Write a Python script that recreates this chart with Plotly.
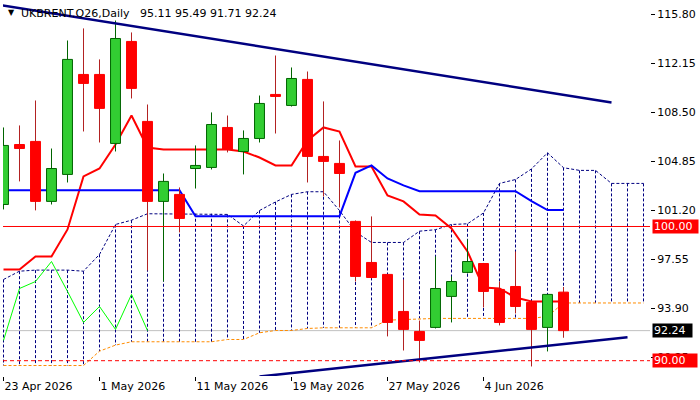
import datetime as dt
import plotly.graph_objects as go

# ---------------- data ----------------
dates = ["2026-04-23", "2026-04-24", "2026-04-27", "2026-04-28", "2026-04-29", "2026-04-30",
         "2026-05-01", "2026-05-04", "2026-05-05", "2026-05-06", "2026-05-07", "2026-05-08",
         "2026-05-11", "2026-05-12", "2026-05-13", "2026-05-14", "2026-05-15", "2026-05-18",
         "2026-05-19", "2026-05-20", "2026-05-21", "2026-05-22", "2026-05-25", "2026-05-26",
         "2026-05-27", "2026-05-28", "2026-05-29", "2026-06-01", "2026-06-02", "2026-06-03",
         "2026-06-04", "2026-06-05", "2026-06-08", "2026-06-09", "2026-06-10", "2026-06-11"]

opens = [101.64, 106.11, 106.34, 101.87, 103.88, 111.33, 111.33, 106.19, 113.79, 107.83, 101.87, 102.39,
         104.32, 104.40, 107.38, 105.59, 106.56, 109.84, 109.02, 110.96, 105.22, 104.70, 100.38, 97.32,
         96.43, 93.67, 92.18, 92.48, 94.79, 96.58, 97.24, 95.31, 95.53, 94.34, 92.48, 95.11]
highs = [107.38, 107.53, 109.39, 105.81, 113.86, 114.76, 112.45, 115.35, 114.46, 109.09, 103.95, 102.91,
         106.04, 108.50, 108.27, 107.16, 109.76, 112.74, 111.85, 111.55, 109.32, 106.41, 100.45, 100.75,
         96.43, 96.05, 92.99, 97.77, 96.28, 99.03, 97.24, 95.90, 98.14, 94.34, 94.94, 95.49]
lows = [101.27, 103.36, 101.20, 101.64, 103.28, 107.08, 106.26, 105.59, 109.54, 96.72, 95.90, 99.56,
        102.83, 104.25, 105.52, 103.88, 106.26, 106.93, 108.94, 103.28, 102.24, 101.42, 95.90, 96.13,
        91.81, 90.76, 89.87, 92.40, 92.85, 96.50, 93.97, 92.63, 93.52, 89.57, 90.69, 91.71]
closes = [106.04, 105.81, 101.87, 104.32, 112.45, 110.66, 108.80, 114.01, 110.29, 101.87, 103.36, 100.60,
          104.55, 107.60, 105.74, 106.56, 109.17, 109.69, 111.03, 105.22, 104.85, 103.95, 96.28, 96.20,
          92.85, 92.33, 91.51, 95.38, 95.90, 97.39, 95.16, 92.85, 94.04, 92.33, 94.94, 92.24]

tenkan = [96.80, 96.80, 97.77, 97.77, 99.78, 103.73, 104.32, 106.11, 108.27, 105.89, 105.74, 105.74,
          105.74, 105.74, 105.74, 105.59, 105.14, 104.55, 104.55, 106.41, 107.38, 107.08, 104.47, 104.47,
          102.31, 101.87, 100.90, 100.82, 99.85, 98.14, 95.46, 95.38, 94.71, 94.41, 94.41, 94.41]
kijun = [102.71, 102.71, 102.71, 102.71, 102.71, 102.71, 102.71, 102.71, 102.71, 102.71, 102.71, 102.71,
         100.77, 100.77, 100.77, 100.77, 100.77, 100.77, 100.77, 100.77, 100.77, 100.77, 104.00, 104.55,
         103.58, 103.06, 102.63, 102.63, 102.63, 102.63, 102.63, 102.63, 102.63, 101.89, 101.22, 101.22]
# Senkou spans (shifted forward, so they run 5 bars past the last candle)
cloud_upper = [96.05, 96.67, 96.75, 96.75, 96.75, 96.67, 97.92, 100.15, 100.47, 100.95, 100.95, 100.95,
               100.95, 100.95, 100.90, 100.04, 101.19, 101.83, 102.39, 102.59, 102.59, 101.19, 99.59, 98.81,
               98.81, 98.81, 99.65, 99.76, 100.15, 100.20, 101.01, 103.21, 103.50, 104.29, 105.49, 104.38,
               104.18, 104.18, 103.21, 103.21, 103.21]
cloud_lower = [89.64, 89.64, 89.64, 89.64, 89.64, 89.64, 90.71, 91.16, 91.41, 91.41, 91.41, 91.41,
               91.41, 91.41, 91.58, 91.58, 92.08, 92.25, 92.25, 92.40, 92.45, 92.45, 92.45, 92.45,
               93.02, 93.07, 93.15, 93.15, 93.15, 93.15, 93.15, 93.15, 93.15, 93.15, 93.30, 94.30,
               94.30, 94.30, 94.30, 94.30, 94.30]
chikou_shift = 26

# trendlines (bar index, price)
trend_down_x = [-1, 38]
trend_down_y = [116.66, 109.24]
trend_up_x = [16, 39]
trend_up_y = [88.82, 91.75]

level_solid = 100.00
level_dashed = 90.00

tick_dates = ["2026-04-23", "2026-05-01", "2026-05-11", "2026-05-19", "2026-05-27", "2026-06-04"]
price_ticks = [115.80, 112.15, 108.50, 104.85, 101.20, 97.55, 93.90, 90.25]
symbol = "UKBRENT.Q26,Daily"

# ---------------- figure ----------------
n = len(dates)
idx = list(range(n))
cidx = list(range(len(cloud_upper)))

NAVY = "#000080"
fig = go.Figure()

# cloud hatching
hx, hy = [], []
for i, (u, l) in enumerate(zip(cloud_upper, cloud_lower)):
    hx += [i, i, None]
    hy += [u, l, None]
fig.add_trace(go.Scatter(x=hx, y=hy, mode="lines", line=dict(color=NAVY, width=1, dash="3px,2px"),
                         hoverinfo="skip", zorder=0))
fig.add_trace(go.Scatter(x=cidx, y=cloud_upper, mode="lines", line=dict(color=NAVY, width=1, dash="3px,2px"),
                         hoverinfo="skip", zorder=0))
fig.add_trace(go.Scatter(x=cidx, y=cloud_lower, mode="lines", line=dict(color="#FF8C00", width=1, dash="3px,2px"),
                         hoverinfo="skip", zorder=0))

# chikou, tenkan, kijun
fig.add_trace(go.Scatter(x=[i - chikou_shift for i in idx[chikou_shift:]], y=closes[chikou_shift:],
                         mode="lines", line=dict(color="#00FF00", width=1), zorder=1))
fig.add_trace(go.Scatter(x=idx, y=tenkan, mode="lines", line=dict(color="#FF0000", width=2), zorder=1))
fig.add_trace(go.Scatter(x=idx, y=kijun, mode="lines", line=dict(color="#0000FF", width=2), zorder=1))

# candles: wicks
for up, col in ((True, "#006400"), (False, "#B22222")):
    wx, wy = [], []
    for i in idx:
        if (closes[i] >= opens[i]) == up:
            wx += [i, i, None]
            wy += [lows[i], highs[i], None]
    fig.add_trace(go.Scatter(x=wx, y=wy, mode="lines", line=dict(color=col, width=1), zorder=2))

# candles: bodies
bases = [min(o, c) for o, c in zip(opens, closes)]
heights = [abs(c - o) for o, c in zip(opens, closes)]
fills = ["#32CD32" if c >= o else "#FF0000" for o, c in zip(opens, closes)]
borders = ["#006400" if c >= o else "#FF0000" for o, c in zip(opens, closes)]
fig.add_trace(go.Bar(x=idx, y=heights, base=bases, width=0.62,
                     marker=dict(color=fills, line=dict(color=borders, width=1)), zorder=3))

# trendlines
fig.add_trace(go.Scatter(x=trend_down_x, y=trend_down_y, mode="lines", line=dict(color=NAVY, width=2.5), zorder=4))
fig.add_trace(go.Scatter(x=trend_up_x, y=trend_up_y, mode="lines", line=dict(color=NAVY, width=2.5), zorder=4))

# horizontal levels
bid = closes[-1]
fig.add_shape(type="line", xref="paper", x0=0, x1=1, yref="y", y0=bid, y1=bid,
              line=dict(color="#C0C0C0", width=1), layer="below")
fig.add_shape(type="line", xref="paper", x0=0, x1=1, yref="y", y0=level_solid, y1=level_solid,
              line=dict(color="#FF0000", width=1), layer="above")
fig.add_shape(type="line", xref="paper", x0=0, x1=1, yref="y", y0=level_dashed, y1=level_dashed,
              line=dict(color="#FF0000", width=1, dash="4px,3px"), layer="above")

# right-side price boxes
for val, bg, w in ((level_solid, "#FF0000", 43), (bid, "#000000", 37), (level_dashed, "#FF0000", 42)):
    fig.add_annotation(xref="paper", x=1, xanchor="left", xshift=2, yref="y", y=val, yanchor="middle",
                       text=f"{val:.2f}", showarrow=False, bgcolor=bg, align="left",
                       width=w, height=11, borderpad=1,
                       font=dict(family="DejaVu Sans", size=11, color="white"))

# header
fig.add_annotation(xref="paper", yref="paper", x=0, y=1, xanchor="left", yanchor="middle",
                   xshift=3, yshift=-10, text="▼", showarrow=False,
                   font=dict(family="DejaVu Sans", size=8, color="black"))
header = f"{symbol}\u00a0\u00a0 {opens[-1]:.2f} {highs[-1]:.2f} {lows[-1]:.2f} {closes[-1]:.2f}"
fig.add_annotation(xref="paper", yref="paper", x=0, y=1, xanchor="left", yanchor="middle",
                   xshift=16, yshift=-11, text=header, showarrow=False,
                   font=dict(family="DejaVu Sans", size=11, color="black"))

tickvals = [dates.index(d) for d in tick_dates]
ticktext = []
for d in tick_dates:
    t = dt.date.fromisoformat(d)
    ticktext.append(f"{t.day} {t.strftime('%b %Y')}")

fig.update_layout(width=700, height=400, margin=dict(l=3, r=50, t=2, b=24),
                  paper_bgcolor="white", plot_bgcolor="white", showlegend=False,
                  barmode="overlay", hovermode=False,
                  font=dict(family="DejaVu Sans", size=11, color="black"))
fig.update_xaxes(range=[-0.03125, 40.40625], showgrid=False, zeroline=False, showline=True, mirror=True,
                 linecolor="black", linewidth=1, ticks="outside", ticklen=4, tickcolor="black",
                 tickvals=tickvals, ticktext=ticktext, ticklabelposition="outside right")
fig.update_yaxes(side="right", range=[88.859, 116.729], showgrid=False, zeroline=False, showline=True,
                 mirror=True, linecolor="black", linewidth=1, ticks="outside", ticklen=4, tickcolor="black",
                 tickvals=price_ticks, ticktext=[f"{v:.2f}" for v in price_ticks])

fig.write_html("out.html")
